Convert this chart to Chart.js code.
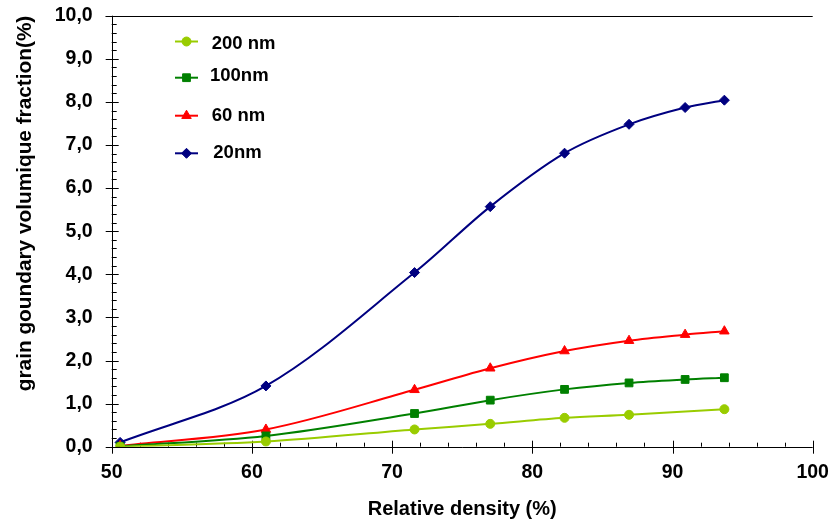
<!DOCTYPE html>
<html><head><meta charset="utf-8">
<script src="https://cdn.jsdelivr.net/npm/chart.js@4/dist/chart.umd.min.js"></script>
<style>html,body{margin:0;padding:0;background:#fff}#wrap{width:833px;height:526px}</style>
</head><body><div id="wrap"><canvas id="c" width="833" height="526"></canvas></div>
<script>
// ---- data ----
const densities = [50.6, 61.0, 71.6, 77.0, 82.3, 86.9, 90.9, 93.7];
const frac200 = [0.00, 0.12, 0.40, 0.53, 0.67, 0.74, null, 0.87];
const frac100 = [0.01, 0.25, 0.77, 1.08, 1.33, 1.48, 1.56, 1.60];
const frac60  = [0.02, 0.40, 1.32, 1.82, 2.22, 2.46, 2.60, 2.68];
const frac20  = [0.10, 1.41, 4.04, 5.57, 6.81, 7.48, 7.87, 8.04];
const seriesLabels = ['200 nm', '100nm', '60 nm', '20nm'];
const xTickValues = [50, 60, 70, 80, 90, 100];
const yTickValues = [0, 1, 2, 3, 4, 5, 6, 7, 8, 9, 10];
const xTitle = 'Relative density (%)';
const yTitle = 'grain goundary volumique fraction(%)';

const FONT = '"Liberation Sans", Arial, sans-serif';
function pts(ys) {
  const out = [];
  ys.forEach((v, i) => { if (v !== null) out.push({x: densities[i], y: v}); });
  return out;
}
const styles = [
  {color: '#99CC00', pointStyle: 'circle', r: 4.5},
  {color: '#008000', pointStyle: 'rect', r: 5.5},
  {color: '#FF0000', pointStyle: 'triangle', r: 5.5},
  {color: '#000080', pointStyle: 'rectRot', r: 5}
];
const seriesData = [frac200, frac100, frac60, frac20];
const datasets = seriesData.map((d, i) => ({
  label: seriesLabels[i],
  data: pts(d),
  borderColor: styles[i].color,
  backgroundColor: styles[i].color,
  pointStyle: styles[i].pointStyle,
  pointRadius: styles[i].r,
  pointBorderWidth: 1,
  borderWidth: 2,
  tension: 0.33,
  fill: false
}));

const legendPos = [
  {ly: 41.5, ty: 44, tx: 211.7},
  {ly: 77.7, ty: 75.5, tx: 210},
  {ly: 115.7, ty: 115.8, tx: 211.7},
  {ly: 153.3, ty: 153.3, tx: 213.3}
];

const axesPlugin = {
  id: 'axesFrame',
  beforeDatasetsDraw(chart) {
    const {ctx, chartArea: a, scales: {x, y}} = chart;
    const p = v => Math.round(v) + 0.5;
    ctx.save();
    ctx.strokeStyle = '#000';
    ctx.lineWidth = 1;
    ctx.beginPath();
    ctx.moveTo(p(a.left), a.top); ctx.lineTo(p(a.left), a.bottom);
    ctx.moveTo(a.left, p(a.bottom)); ctx.lineTo(a.right, p(a.bottom));
    ctx.moveTo(a.left - 6, p(a.top)); ctx.lineTo(a.right, p(a.top));
    for (let v = y.min; v <= y.max + 1e-9; v += 1) {
      const yy = p(y.getPixelForValue(v));
      ctx.moveTo(a.left - 6, yy); ctx.lineTo(a.left + 7, yy);
    }
    for (let v = y.min; v < y.max - 1e-9; v += 0.2) {
      const yy = p(y.getPixelForValue(v));
      ctx.moveTo(a.left, yy); ctx.lineTo(a.left + 5, yy);
    }
    for (let v = x.min; v <= x.max + 1e-9; v += 10) {
      const xx = p(x.getPixelForValue(v));
      ctx.moveTo(xx, a.bottom - 6); ctx.lineTo(xx, a.bottom + 7);
    }
    for (let v = x.min; v <= x.max + 1e-9; v += 2) {
      const xx = p(x.getPixelForValue(v));
      ctx.moveTo(xx, a.bottom - 4); ctx.lineTo(xx, a.bottom);
    }
    ctx.stroke();
    ctx.restore();
  },
  afterDraw(chart) {
    const ctx = chart.ctx;
    chart.data.datasets.forEach((ds, i) => {
      const lp = legendPos[i];
      ctx.save();
      ctx.strokeStyle = ds.borderColor;
      ctx.lineWidth = 2;
      ctx.beginPath();
      ctx.moveTo(175, lp.ly); ctx.lineTo(198, lp.ly);
      ctx.stroke();
      ctx.fillStyle = ds.backgroundColor;
      ctx.strokeStyle = ds.borderColor;
      ctx.lineWidth = 1;
      Chart.helpers.drawPoint(ctx, {pointStyle: ds.pointStyle, radius: ds.pointRadius, borderWidth: 1, rotation: 0}, 186.5, lp.ly);
      ctx.fillStyle = '#000';
      ctx.font = 'bold 18.5px ' + FONT;
      ctx.textBaseline = 'middle';
      ctx.textAlign = 'left';
      ctx.fillText(ds.label, lp.tx, lp.ty);
      ctx.restore();
    });
  }
};

function zeroPad(s) { s.paddingTop = 0; s.paddingBottom = 0; s.paddingLeft = 0; s.paddingRight = 0; }

new Chart(document.getElementById('c'), {
  type: 'line',
  data: {datasets},
  options: {
    responsive: false,
    animation: false,
    devicePixelRatio: 1,
    layout: {padding: {left: 0, top: 15.7, right: 20.3, bottom: 0}},
    plugins: {legend: {display: false}, tooltip: {enabled: false}},
    scales: {
      x: {
        type: 'linear', min: 50, max: 100,
        afterBuildTicks: s => { s.ticks = xTickValues.map(v => ({value: v})); },
        afterFit: s => { s.height = 79.3; zeroPad(s); },
        grid: {display: false, drawTicks: false},
        border: {display: false},
        ticks: {color: '#000', padding: 14, font: {family: FONT, size: 19.5, weight: 'bold'}, maxRotation: 0},
        title: {display: true, text: xTitle, color: '#000', font: {family: FONT, size: 20, weight: 'bold'}, padding: {top: 0, bottom: 5}}
      },
      y: {
        type: 'linear', min: 0, max: 10,
        afterBuildTicks: s => { s.ticks = yTickValues.map(v => ({value: v})); },
        afterFit: s => { s.width = 111.7; zeroPad(s); },
        grid: {display: false, drawTicks: false},
        border: {display: false},
        ticks: {color: '#000', padding: 19, font: {family: FONT, size: 19.5, weight: 'bold'},
          callback: v => v.toFixed(1).replace('.', ',')},
        title: {display: true, text: yTitle, align: 'end', color: '#000', font: {family: FONT, size: 20.8, weight: 'bold'}, padding: {top: 13, bottom: 0}}
      }
    }
  },
  plugins: [axesPlugin]
});
</script>
</body></html>
